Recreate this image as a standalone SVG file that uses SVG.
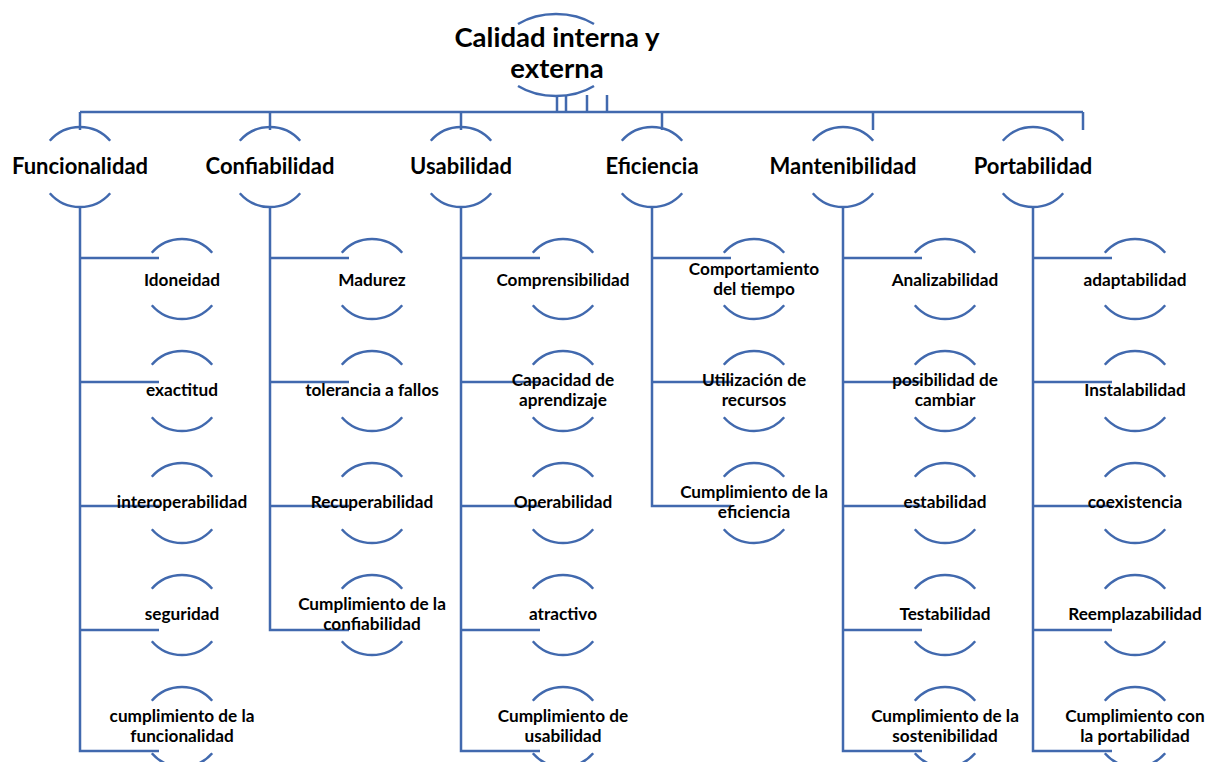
<svg xmlns="http://www.w3.org/2000/svg" width="1209" height="762" viewBox="0 0 1209 762">
  <style>
    .ln { fill: none; stroke: #4169AE; stroke-width: 2.5; }
    text { font-family: Lato, "Open Sans", "Liberation Sans", sans-serif; font-weight: bold; fill: #000; text-anchor: middle; }
    .t-top { font-size: 27.5px; }
    .t-cat { font-size: 22px; }
    .t-leaf { font-size: 17.2px; }
  </style>
  <defs>
    <!-- arc pair framing a circular node of radius 40 centred at 0,0 -->
    <g id="ring">
      <path class="ln" d="M -30.2 -26.2 A 40 40 0 0 1 30.2 -26.2"/>
      <path class="ln" d="M -30.2 26.2 A 40 40 0 0 0 30.2 26.2"/>
    </g>
  </defs>

  <!-- connectors -->
  <g id="connectors" class="ln">
    <path d="M 557 95 V 112 M 566 95 V 112 M 587 95 V 112 M 607 95 V 112"/>
    <path d="M 80 112 H 1083"/>
    <path d="M 80 112 V 130 M 270 112 V 130 M 461 112 V 130 M 662 112 V 130 M 873 112 V 130 M 1083 112 V 130"/>
    <!-- Funcionalidad -->
    <path d="M 80 207 V 751 H 159 M 80 258 H 159 M 80 382 H 159 M 80 506 H 159 M 80 630 H 159"/>
    <!-- Confiabilidad -->
    <path d="M 270 207 V 630 H 349 M 270 258 H 349 M 270 382 H 349 M 270 506 H 349"/>
    <!-- Usabilidad -->
    <path d="M 461 207 V 751 H 540 M 461 258 H 540 M 461 382 H 540 M 461 506 H 540 M 461 630 H 540"/>
    <!-- Eficiencia -->
    <path d="M 652 207 V 506 H 731 M 652 258 H 731 M 652 382 H 731"/>
    <!-- Mantenibilidad -->
    <path d="M 843 207 V 751 H 922 M 843 258 H 922 M 843 382 H 922 M 843 506 H 922 M 843 630 H 922"/>
    <!-- Portabilidad -->
    <path d="M 1033 207 V 751 H 1112 M 1033 258 H 1112 M 1033 382 H 1112 M 1033 506 H 1112 M 1033 630 H 1112"/>
  </g>

  <!-- root -->
  <g id="root">
    <path class="ln" d="M 518 24 A 58 41 0 0 1 594 24"/>
    <path class="ln" d="M 518 86 A 58 41 0 0 0 594 86"/>
    <text class="t-top" x="557" y="47">Calidad interna y</text>
    <text class="t-top" x="557" y="78">externa</text>
  </g>

  <!-- categories -->
  <g id="cat-funcionalidad"><use href="#ring" x="80" y="167"/><text class="t-cat" x="80" y="174">Funcionalidad</text></g>
  <g id="cat-confiabilidad"><use href="#ring" x="270" y="167"/><text class="t-cat" x="270" y="174">Confiabilidad</text></g>
  <g id="cat-usabilidad"><use href="#ring" x="461" y="167"/><text class="t-cat" x="461" y="174">Usabilidad</text></g>
  <g id="cat-eficiencia"><use href="#ring" x="652" y="167"/><text class="t-cat" x="652" y="174">Eficiencia</text></g>
  <g id="cat-mantenibilidad"><use href="#ring" x="843" y="167"/><text class="t-cat" x="843" y="174">Mantenibilidad</text></g>
  <g id="cat-portabilidad"><use href="#ring" x="1033" y="167"/><text class="t-cat" x="1033" y="174">Portabilidad</text></g>

  <!-- Funcionalidad leaves -->
  <g id="f1"><use href="#ring" x="182" y="279"/><text class="t-leaf" x="182" y="286">Idoneidad</text></g>
  <g id="f2"><use href="#ring" x="182" y="391"/><text class="t-leaf" x="182" y="396">exactitud</text></g>
  <g id="f3"><use href="#ring" x="182" y="503"/><text class="t-leaf" x="182" y="508">interoperabilidad</text></g>
  <g id="f4"><use href="#ring" x="182" y="615"/><text class="t-leaf" x="182" y="620">seguridad</text></g>
  <g id="f5"><use href="#ring" x="182" y="727"/><text class="t-leaf" x="182" y="722">cumplimiento de la</text><text class="t-leaf" x="182" y="742">funcionalidad</text></g>

  <!-- Confiabilidad leaves -->
  <g id="c1"><use href="#ring" x="372" y="279"/><text class="t-leaf" x="372" y="286">Madurez</text></g>
  <g id="c2"><use href="#ring" x="372" y="391"/><text class="t-leaf" x="372" y="396">tolerancia a fallos</text></g>
  <g id="c3"><use href="#ring" x="372" y="503"/><text class="t-leaf" x="372" y="508">Recuperabilidad</text></g>
  <g id="c4"><use href="#ring" x="372" y="615"/><text class="t-leaf" x="372" y="610">Cumplimiento de la</text><text class="t-leaf" x="372" y="630">confiabilidad</text></g>

  <!-- Usabilidad leaves -->
  <g id="u1"><use href="#ring" x="563" y="279"/><text class="t-leaf" x="563" y="286">Comprensibilidad</text></g>
  <g id="u2"><use href="#ring" x="563" y="391"/><text class="t-leaf" x="563" y="386">Capacidad de</text><text class="t-leaf" x="563" y="406">aprendizaje</text></g>
  <g id="u3"><use href="#ring" x="563" y="503"/><text class="t-leaf" x="563" y="508">Operabilidad</text></g>
  <g id="u4"><use href="#ring" x="563" y="615"/><text class="t-leaf" x="563" y="620">atractivo</text></g>
  <g id="u5"><use href="#ring" x="563" y="727"/><text class="t-leaf" x="563" y="722">Cumplimiento de</text><text class="t-leaf" x="563" y="742">usabilidad</text></g>

  <!-- Eficiencia leaves -->
  <g id="e1"><use href="#ring" x="754" y="279"/><text class="t-leaf" x="754" y="275">Comportamiento</text><text class="t-leaf" x="754" y="295">del tiempo</text></g>
  <g id="e2"><use href="#ring" x="754" y="391"/><text class="t-leaf" x="754" y="386">Utilización de</text><text class="t-leaf" x="754" y="406">recursos</text></g>
  <g id="e3"><use href="#ring" x="754" y="503"/><text class="t-leaf" x="754" y="498">Cumplimiento de la</text><text class="t-leaf" x="754" y="518">eficiencia</text></g>

  <!-- Mantenibilidad leaves -->
  <g id="m1"><use href="#ring" x="945" y="279"/><text class="t-leaf" x="945" y="286">Analizabilidad</text></g>
  <g id="m2"><use href="#ring" x="945" y="391"/><text class="t-leaf" x="945" y="386">posibilidad de</text><text class="t-leaf" x="945" y="406">cambiar</text></g>
  <g id="m3"><use href="#ring" x="945" y="503"/><text class="t-leaf" x="945" y="508">estabilidad</text></g>
  <g id="m4"><use href="#ring" x="945" y="615"/><text class="t-leaf" x="945" y="620">Testabilidad</text></g>
  <g id="m5"><use href="#ring" x="945" y="727"/><text class="t-leaf" x="945" y="722">Cumplimiento de la</text><text class="t-leaf" x="945" y="742">sostenibilidad</text></g>

  <!-- Portabilidad leaves -->
  <g id="p1"><use href="#ring" x="1135" y="279"/><text class="t-leaf" x="1135" y="286">adaptabilidad</text></g>
  <g id="p2"><use href="#ring" x="1135" y="391"/><text class="t-leaf" x="1135" y="396">Instalabilidad</text></g>
  <g id="p3"><use href="#ring" x="1135" y="503"/><text class="t-leaf" x="1135" y="508">coexistencia</text></g>
  <g id="p4"><use href="#ring" x="1135" y="615"/><text class="t-leaf" x="1135" y="620">Reemplazabilidad</text></g>
  <g id="p5"><use href="#ring" x="1135" y="727"/><text class="t-leaf" x="1135" y="722">Cumplimiento con</text><text class="t-leaf" x="1135" y="742">la portabilidad</text></g>
</svg>
